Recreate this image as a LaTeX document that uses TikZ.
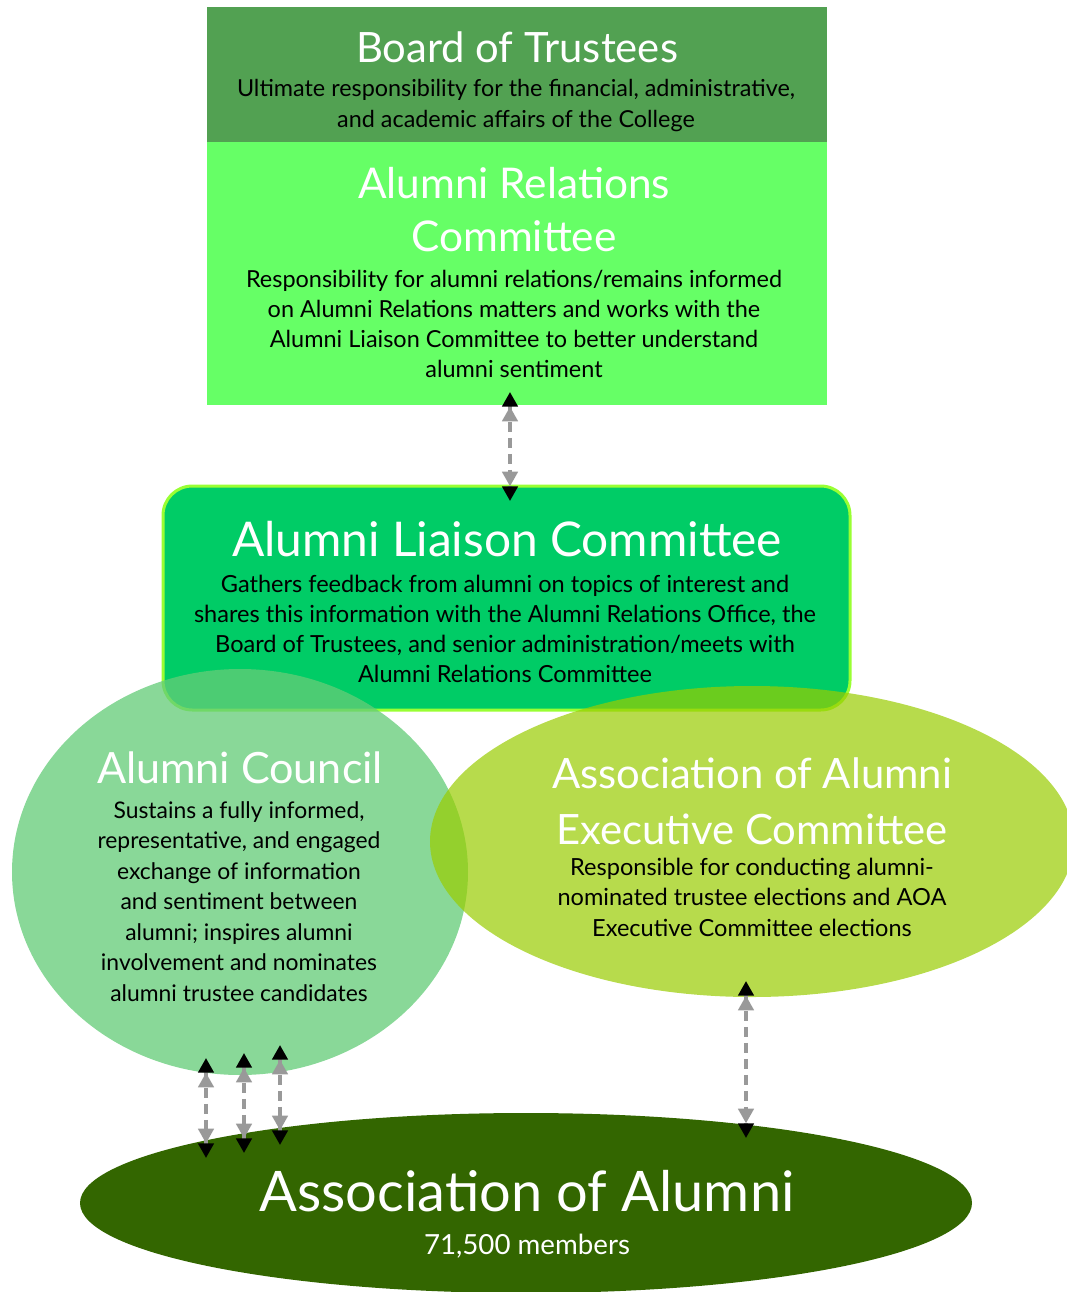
\documentclass[tikz,border=0pt]{standalone}
\usepackage{fontspec}
\setmainfont{Lato}
\usetikzlibrary{arrows.meta,calc,shapes.geometric}

\definecolor{boardgreen}{RGB}{82,161,82}
\definecolor{arcgreen}{RGB}{102,255,102}
\definecolor{liaisongreen}{RGB}{0,204,102}
\definecolor{liaisonborder}{RGB}{153,255,51}
\definecolor{councilgreen}{RGB}{100,204,120}
\definecolor{execgreen}{RGB}{153,204,0}
\definecolor{aoagreen}{RGB}{51,102,0}
\definecolor{arrowgray}{RGB}{153,153,153}

\newlength\fitnat
\newcommand\mkfitsize[3]{\settowidth\fitnat{\normalfont\fontsize{10pt}{12pt}\selectfont #3}\pgfmathsetmacro#1{10*#2*0.75/\fitnat}\global\let#1#1}
\newcommand\textblock[6]{%
  \foreach \tline [count=\k] in {#6} {%
    \node[lbl,#5] (#1-\k) at (#2, {#3+(\k-1)*#4}) {\tline};
  }}

\tikzset{
  lbl/.style={inner sep=0pt, anchor=base},
  shapebox/.style={rectangle, inner sep=0pt, outer sep=0pt},
  shapeell/.style={ellipse, inner sep=0pt, outer sep=0pt},
  biarrow/.style={draw=arrowgray, line width=2.6pt, dash pattern=on 7.5pt off 4.5pt,
    arrows={Triangle[color=black,length=11pt,width=11.5pt] Triangle[color=arrowgray,length=11pt,width=11.5pt]-Triangle[color=arrowgray,length=11pt,width=11.5pt] Triangle[color=black,length=11pt,width=11.5pt]}}
}

\begin{document}
% font sizes fitted to reference widths
\mkfitsize\szBoardT{322}{Board of Trustees}%
\mkfitsize\szBoardB{558}{Ultimate responsibility for the financial, administrative,}%
\mkfitsize\szArcT{312}{Alumni Relations}%
\mkfitsize\szArcB{536}{Responsibility for alumni relations/remains informed}%
\mkfitsize\szLiaT{550}{Alumni Liaison Committee}%
\mkfitsize\szLiaB{622}{shares this information with the Alumni Relations Office, the}%
\mkfitsize\szCouT{286}{Alumni Council}%
\mkfitsize\szCouB{283}{representative, and engaged}%
\mkfitsize\szExeT{400}{Association of Alumni}%
\mkfitsize\szExeB{389}{nominated trustee elections and AOA}%
\mkfitsize\szAoaT{535}{Association of Alumni}%
\mkfitsize\szAoaB{206}{71,500 members}%
\begin{tikzpicture}[x=0.75pt,y=-0.75pt]
\useasboundingbox (0,0) rectangle (1067,1292);

% shapes
\node[shapebox, fill=boardgreen, minimum width=465pt, minimum height=101.25pt] (board) at (517,74.5) {};
\node[shapebox, fill=arcgreen, minimum width=465pt, minimum height=197.25pt] (arc) at (517,273.5) {};
\node[shapebox, fill=liaisongreen, draw=liaisonborder, line width=2.25pt, rounded corners=22pt,
      minimum width=515.25pt, minimum height=168pt] (liaison) at (506.5,598) {};
\node[shapeell, fill=councilgreen, fill opacity=0.76, minimum width=342pt, minimum height=304.5pt] (council) at (240,872) {};
\node[shapeell, fill=execgreen, fill opacity=0.7, minimum width=483pt, minimum height=233.25pt] (exec) at (752,841.5) {};
\node[shapeell, fill=aoagreen, minimum width=669pt, minimum height=135pt] (aoa) at (526,1203) {};

% connectors
\draw[biarrow] ($(arc.south)+(-7,-13)$) -- ($(liaison.north)+(3.5,15)$);
\draw[biarrow] ($(council.south)+(-34,-17)$) -- ($(aoa.north)+(-320,45)$);
\draw[biarrow] ($(council.south)+(4,-22)$) -- ($(aoa.north)+(-282,40)$);
\draw[biarrow] ($(council.south)+(40,-30)$) -- ($(aoa.north)+(-246,32)$);
\draw[biarrow] ($(exec.south)+(-6,-16)$) -- ($(aoa.north)+(220,25)$);

% texts
\textblock{boardT}{517}{62}{0}{white, font={\fontsize{\szBoardT pt}{\szBoardT pt}\selectfont}}{{Board of Trustees}}
\textblock{boardB}{516}{96}{31}{black, font={\fontsize{\szBoardB pt}{\szBoardB pt}\selectfont}}{{Ultimate responsibility for the financial, administrative,},{and academic affairs of the College}}

\textblock{arcT}{514}{198}{53}{white, font={\fontsize{\szArcT pt}{\szArcT pt}\selectfont}}{{Alumni Relations},{Committee}}
\textblock{arcB}{514}{287}{30.3}{black, font={\fontsize{\szArcB pt}{\szArcB pt}\selectfont}}{{Responsibility for alumni relations/remains informed},{on Alumni Relations matters and works with the},{Alumni Liaison Committee to better understand},{alumni sentiment}}

\textblock{liaT}{507}{556}{0}{white, font={\fontsize{\szLiaT pt}{\szLiaT pt}\selectfont}}{{Alumni Liaison Committee}}
\textblock{liaB}{505}{592}{30.3}{black, font={\fontsize{\szLiaB pt}{\szLiaB pt}\selectfont}}{{Gathers feedback from alumni on topics of interest and},{shares this information with the Alumni Relations Office, the},{Board of Trustees, and senior administration/meets with},{Alumni Relations Committee}}

\textblock{couT}{240}{783}{0}{white, font={\fontsize{\szCouT pt}{\szCouT pt}\selectfont}}{{Alumni Council}}
\textblock{couB}{239}{818}{30.5}{black, font={\fontsize{\szCouB pt}{\szCouB pt}\selectfont}}{{Sustains a fully informed,},{representative, and engaged},{exchange of information},{and sentiment between},{alumni; inspires alumni},{involvement and nominates},{alumni trustee candidates}}

\textblock{exeT}{752}{788}{56}{white, font={\fontsize{\szExeT pt}{\szExeT pt}\selectfont}}{{Association of Alumni},{Executive Committee}}
\textblock{exeB}{752}{875}{30.5}{black, font={\fontsize{\szExeB pt}{\szExeB pt}\selectfont}}{{Responsible for conducting alumni-},{nominated trustee elections and AOA},{Executive Committee elections}}

\textblock{aoaT}{527}{1211}{0}{white, font={\fontsize{\szAoaT pt}{\szAoaT pt}\selectfont}}{{Association of Alumni}}
\textblock{aoaB}{527}{1254}{0}{white, font={\fontsize{\szAoaB pt}{\szAoaB pt}\selectfont}}{{71,500 members}}
\end{tikzpicture}
\end{document}
